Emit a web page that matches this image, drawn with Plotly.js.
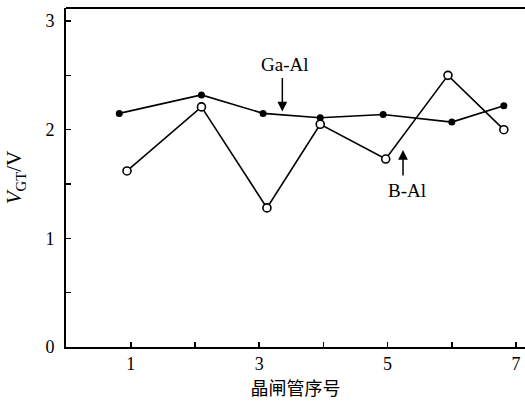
<!DOCTYPE html>
<html>
<head>
<meta charset="utf-8">
<script src="https://cdn.plot.ly/plotly-3.0.1.min.js"></script>
<style>html,body{margin:0;padding:0;background:#fff;}#chart{width:525px;height:408px;}</style>
</head>
<body>
<div id="chart"></div>
<script>
// Ga-Al (filled circles)
const gaX = [0.82, 2.10, 3.06, 3.95, 4.93, 6.00, 6.81];
const gaY = [2.15, 2.32, 2.15, 2.11, 2.14, 2.07, 2.22];
// B-Al (open circles)
const bX = [0.94, 2.10, 3.12, 3.95, 4.97, 5.94, 6.81];
const bY = [1.62, 2.21, 1.28, 2.05, 1.73, 2.50, 2.00];

const xTickVals = [1, 2, 3, 4, 5, 6, 7];
const xTickText = ['1', '', '3', '', '5', '', '7'];
const yTickVals = [0, 0.5, 1, 1.5, 2, 2.5, 3];
const yTickText = ['0', '', '1', '', '2', '', '3'];

const serif = 'Liberation Serif, Times New Roman, serif';

const traces = [
  {
    x: gaX, y: gaY, type: 'scatter', mode: 'lines+markers', name: 'Ga-Al',
    line: {color: '#000', width: 1.6},
    marker: {symbol: 'circle', size: 7, color: '#000', line: {color: '#000', width: 0}},
    cliponaxis: false
  },
  {
    x: bX, y: bY, type: 'scatter', mode: 'lines+markers', name: 'B-Al',
    line: {color: '#000', width: 1.6},
    marker: {symbol: 'circle', size: 8, color: '#fff', line: {color: '#000', width: 1.6}},
    cliponaxis: false
  }
];

const layout = {
  width: 525, height: 408,
  margin: {l: 66, r: 0, t: 8, b: 61},
  paper_bgcolor: '#fff', plot_bgcolor: '#fff',
  showlegend: false,
  font: {family: serif, color: '#000', size: 16},
  xaxis: {
    range: [-0.01, 7.14],
    tickmode: 'array', tickvals: xTickVals, ticktext: xTickText,
    ticks: 'inside', ticklen: 5, tickwidth: 1.5, tickcolor: '#000',
    showline: true, linecolor: '#000', linewidth: 1.8,
    showgrid: false, zeroline: false,
    tickfont: {family: serif, size: 18, color: '#000'},
    ticklabelstandoff: 0,
    title: {text: '晶闸管序号', font: {family: 'Noto Sans CJK SC, sans-serif', size: 18, color: '#000'}, standoff: 5}
  },
  yaxis: {
    range: [0, 3.12],
    tickmode: 'array', tickvals: yTickVals, ticktext: yTickText,
    ticks: 'inside', ticklen: 5, tickwidth: 1.5, tickcolor: '#000',
    showline: true, linecolor: '#000', linewidth: 1.8,
    showgrid: false, zeroline: false,
    tickfont: {family: serif, size: 18, color: '#000'},
    ticklabelstandoff: 6,
    title: {text: '<i>V</i><sub>GT</sub>/V', font: {family: serif, size: 21, color: '#000'}, standoff: 18}
  },
  shapes: [
    {type: 'line', xref: 'paper', yref: 'paper', x0: 0, x1: 1, y0: 1, y1: 1, line: {color: '#000', width: 1.8}}
  ],
  annotations: [
    {x: 3.39, y: 2.60, xref: 'x', yref: 'y', text: 'Ga-Al', showarrow: false, font: {family: serif, size: 19, color: '#000'}},
    {x: 3.36, y: 2.167, xref: 'x', yref: 'y', text: '', showarrow: true, ax: 0, ay: -35,
     arrowhead: 2, arrowsize: 1.3, arrowwidth: 1.5, arrowcolor: '#000', standoff: 0},
    {x: 5.30, y: 1.445, xref: 'x', yref: 'y', text: 'B-Al', showarrow: false, font: {family: serif, size: 19, color: '#000'}},
    {x: 5.24, y: 1.813, xref: 'x', yref: 'y', text: '', showarrow: true, ax: 0, ay: 27,
     arrowhead: 2, arrowsize: 1.3, arrowwidth: 1.5, arrowcolor: '#000', standoff: 0}
  ]
};

Plotly.newPlot('chart', traces, layout, {displayModeBar: false, staticPlot: true});
</script>
</body>
</html>
